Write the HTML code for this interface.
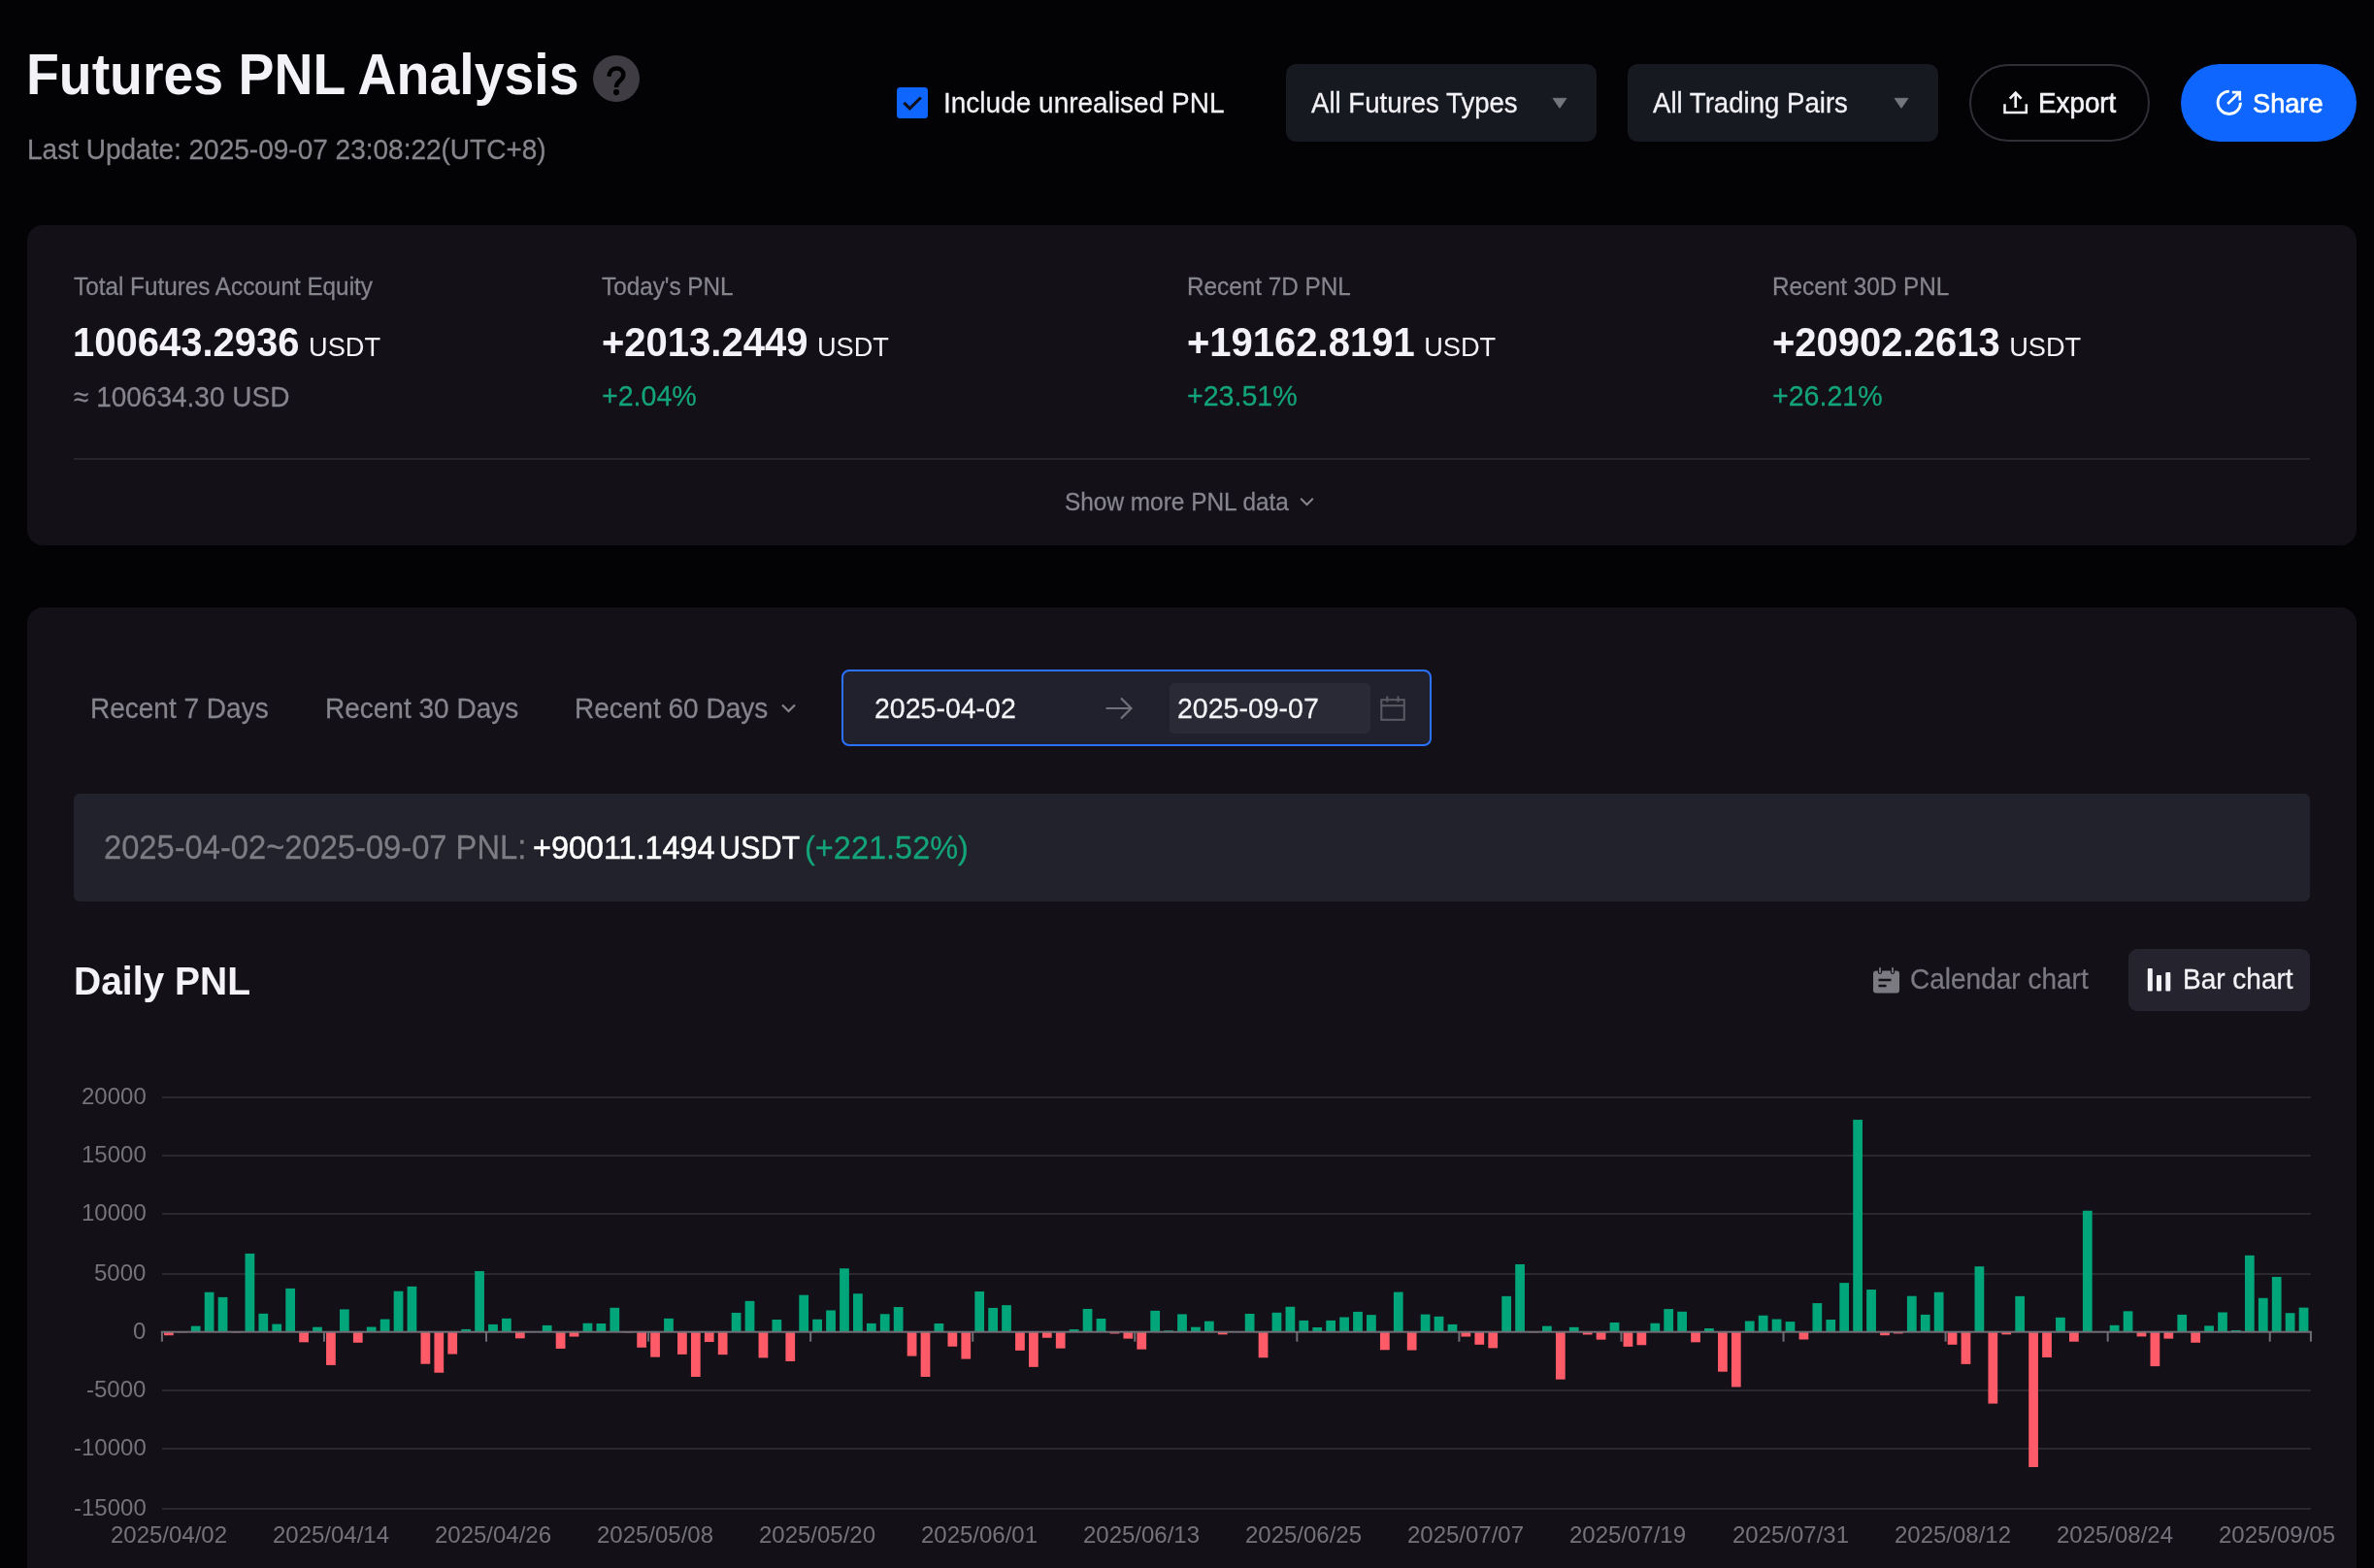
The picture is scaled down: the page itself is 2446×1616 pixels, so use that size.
<!DOCTYPE html>
<html><head><meta charset="utf-8"><title>Futures PNL Analysis</title>
<style>
html,body{margin:0;padding:0;background:#030205;width:2446px;height:1616px;overflow:hidden;position:relative;font-family:"Liberation Sans", sans-serif}
.t{position:absolute;line-height:1;white-space:nowrap;font-family:"Liberation Sans", sans-serif;will-change:transform}
.r{position:absolute}
</style></head><body>
<div class="t" style="left:27.00px;top:51.30px;font-size:55.4px;color:#f3f2f6;font-weight:700;transform:scaleY(1.065);transform-origin:0 46.90px;">Futures PNL Analysis</div>
<div class="r" style="left:611px;top:56.7px;width:48px;height:48px;border-radius:50%;background:#3f3d43"></div>
<svg class="r" style="left:611px;top:56.7px" width="48" height="48" viewBox="0 0 48 48"><path d="M16.6 21.8C16.6 16.6 19.9 13.5 24.1 13.5C28.5 13.5 31.3 16.3 31.3 19.9C31.3 23.1 29.2 24.8 27.2 26.7C25.3 28.5 24.1 29.8 24.1 33" fill="none" stroke="#000000" stroke-width="4.5"/><circle cx="24" cy="38.1" r="3.1" fill="#000000"/></svg>
<div class="t" style="left:28.00px;top:140.50px;font-size:28px;color:#86858c;font-weight:400;transform:scaleY(1.03);transform-origin:0 23.70px;-webkit-text-stroke:0.25px #86858c;">Last Update: 2025-09-07 23:08:22(UTC+8)</div>
<div class="r" style="left:924.00px;top:90.00px;width:32.00px;height:32.00px;background:#0e66ff;border-radius:3.5px;"></div>
<svg class="r" style="left:924px;top:90px" width="32" height="32" viewBox="0 0 32 32"><path d="M7.4 15.9L13.4 21.9L24.8 10.5" fill="none" stroke="#10101a" stroke-width="3.1"/></svg>
<div class="t" style="left:971.50px;top:92.60px;font-size:28px;color:#f3f2f6;font-weight:400;transform:scaleY(1.05);transform-origin:0 23.70px;-webkit-text-stroke:0.25px #f3f2f6;">Include unrealised PNL</div>
<div class="r" style="left:1325.00px;top:66.00px;width:320.00px;height:80.00px;background:#171920;border-radius:10px;"></div>
<div class="t" style="left:1350.50px;top:92.94px;font-size:27.6px;color:#f3f2f6;font-weight:400;transform:scaleY(1.06);transform-origin:0 23.36px;-webkit-text-stroke:0.25px #f3f2f6;">All Futures Types</div>
<svg class="r" style="left:1599px;top:100px" width="16" height="12" viewBox="0 0 16 12"><path d="M1 1.3h14L8 11.4z" fill="#74767e" stroke="#74767e" stroke-width="0.8" stroke-linejoin="round"/></svg>
<div class="r" style="left:1677.00px;top:66.00px;width:320.00px;height:80.00px;background:#171920;border-radius:10px;"></div>
<div class="t" style="left:1702.50px;top:92.94px;font-size:27.6px;color:#f3f2f6;font-weight:400;transform:scaleY(1.06);transform-origin:0 23.36px;-webkit-text-stroke:0.25px #f3f2f6;">All Trading Pairs</div>
<svg class="r" style="left:1951px;top:100px" width="16" height="12" viewBox="0 0 16 12"><path d="M1 1.3h14L8 11.4z" fill="#74767e" stroke="#74767e" stroke-width="0.8" stroke-linejoin="round"/></svg>
<div class="r" style="left:2029px;top:66px;width:186px;height:80px;border-radius:40px;border:2px solid #302e35;box-sizing:border-box"></div>
<svg class="r" style="left:2062px;top:92px" width="30" height="28" viewBox="0 0 30 28"><path d="M3.5 15.3V24H25.8V15.3" fill="none" stroke="#f3f2f6" stroke-width="2.5"/><path d="M14.7 19V3.8M8.8 9.7L14.7 3.6l5.9 6.1" fill="none" stroke="#f3f2f6" stroke-width="2.6"/></svg>
<div class="t" style="left:2100.00px;top:92.77px;font-size:27.8px;color:#f3f2f6;font-weight:400;transform:scaleY(1.04);transform-origin:0 23.53px;-webkit-text-stroke:0.6px #f3f2f6;">Export</div>
<div class="r" style="left:2247.00px;top:66.00px;width:181.00px;height:80.00px;background:#0e66ff;border-radius:40px;"></div>
<svg class="r" style="left:2280px;top:90px" width="34" height="34" viewBox="0 0 34 34"><path d="M16.8 4.1A11.7 11.7 0 1 0 28.5 15.8" fill="none" stroke="#ffffff" stroke-width="2.9"/><path d="M15.4 17L27 5.6M19.8 5.15H27.75V13.4" fill="none" stroke="#ffffff" stroke-width="2.7"/></svg>
<div class="t" style="left:2321.20px;top:93.28px;font-size:27.2px;color:#ffffff;font-weight:400;transform:scaleY(1.04);transform-origin:0 23.02px;-webkit-text-stroke:0.6px #fff;">Share</div>
<div class="r" style="left:28.00px;top:231.50px;width:2399.50px;height:330.50px;background:#131018;border-radius:16px;"></div>
<div class="t" style="left:76.00px;top:283.63px;font-size:24.3px;color:#86858c;font-weight:400;transform:scaleY(1.07);transform-origin:0 20.57px;-webkit-text-stroke:0.25px #86858c;">Total Futures Account Equity</div>
<div class="t" style="left:75.00px;top:333.34px;font-size:40px;color:#f3f2f6;font-weight:700;transform:scaleY(1.05);transform-origin:0 33.86px;white-space:nowrap">100643.2936<span style="font-size:27.2px;font-weight:400;margin-left:9.5px">USDT</span></div>
<div class="t" style="left:76.00px;top:395.80px;font-size:28px;color:#86858c;font-weight:400;transform:scaleY(1.03);transform-origin:0 23.70px;-webkit-text-stroke:0.25px #86858c;">≈ 100634.30 USD</div>
<div class="t" style="left:620.00px;top:283.63px;font-size:24.3px;color:#86858c;font-weight:400;transform:scaleY(1.07);transform-origin:0 20.57px;-webkit-text-stroke:0.25px #86858c;">Today's PNL</div>
<div class="t" style="left:620.00px;top:333.34px;font-size:40px;color:#f3f2f6;font-weight:700;transform:scaleY(1.05);transform-origin:0 33.86px;white-space:nowrap">+2013.2449<span style="font-size:27.2px;font-weight:400;margin-left:9.5px">USDT</span></div>
<div class="t" style="left:620.00px;top:394.09px;font-size:28.6px;color:#14a479;font-weight:400;transform:scaleY(1.02);transform-origin:0 24.21px;-webkit-text-stroke:0.25px #14a479;">+2.04%</div>
<div class="t" style="left:1222.50px;top:283.63px;font-size:24.3px;color:#86858c;font-weight:400;transform:scaleY(1.07);transform-origin:0 20.57px;-webkit-text-stroke:0.25px #86858c;">Recent 7D PNL</div>
<div class="t" style="left:1222.50px;top:333.34px;font-size:40px;color:#f3f2f6;font-weight:700;transform:scaleY(1.05);transform-origin:0 33.86px;white-space:nowrap">+19162.8191<span style="font-size:27.2px;font-weight:400;margin-left:9.5px">USDT</span></div>
<div class="t" style="left:1222.50px;top:394.09px;font-size:28.6px;color:#14a479;font-weight:400;transform:scaleY(1.02);transform-origin:0 24.21px;-webkit-text-stroke:0.25px #14a479;">+23.51%</div>
<div class="t" style="left:1825.50px;top:283.63px;font-size:24.3px;color:#86858c;font-weight:400;transform:scaleY(1.07);transform-origin:0 20.57px;-webkit-text-stroke:0.25px #86858c;">Recent 30D PNL</div>
<div class="t" style="left:1825.50px;top:333.34px;font-size:40px;color:#f3f2f6;font-weight:700;transform:scaleY(1.05);transform-origin:0 33.86px;white-space:nowrap">+20902.2613<span style="font-size:27.2px;font-weight:400;margin-left:9.5px">USDT</span></div>
<div class="t" style="left:1825.50px;top:394.09px;font-size:28.6px;color:#14a479;font-weight:400;transform:scaleY(1.02);transform-origin:0 24.21px;-webkit-text-stroke:0.25px #14a479;">+26.21%</div>
<div class="r" style="left:76.00px;top:472.00px;width:2304.00px;height:2.00px;background:#26252c;border-radius:0px;"></div>
<div class="t" style="left:1096.50px;top:506.35px;font-size:24.4px;color:#86858c;font-weight:400;transform:scaleY(1.05);transform-origin:0 20.65px;-webkit-text-stroke:0.25px #86858c;">Show more PNL data</div>
<svg class="r" style="left:1338px;top:511px" width="17" height="12" viewBox="0 0 17 12"><path d="M2.2 2.8L8.5 9l6.3-6.2" fill="none" stroke="#86858c" stroke-width="2"/></svg>
<div class="r" style="left:28.00px;top:626.00px;width:2399.50px;height:1200.00px;background:#131018;border-radius:16px;"></div>
<div class="t" style="left:93.00px;top:717.00px;font-size:28px;color:#86858c;font-weight:400;transform:scaleY(1.05);transform-origin:0 23.70px;-webkit-text-stroke:0.25px #86858c;">Recent 7 Days</div>
<div class="t" style="left:335.00px;top:717.00px;font-size:28px;color:#86858c;font-weight:400;transform:scaleY(1.05);transform-origin:0 23.70px;-webkit-text-stroke:0.25px #86858c;">Recent 30 Days</div>
<div class="t" style="left:592.00px;top:717.00px;font-size:28px;color:#86858c;font-weight:400;transform:scaleY(1.05);transform-origin:0 23.70px;-webkit-text-stroke:0.25px #86858c;">Recent 60 Days</div>
<svg class="r" style="left:803px;top:723px" width="19" height="14" viewBox="0 0 19 14"><path d="M3 3.5l6.5 6.5L16 3.5" fill="none" stroke="#86858c" stroke-width="2.2"/></svg>
<div class="r" style="left:867px;top:690.3px;width:608px;height:79px;border-radius:8px;border:2px solid #2a72ff;background:#21212d;box-sizing:border-box"></div>
<div class="r" style="left:1205.30px;top:704.30px;width:207.00px;height:51.50px;background:#2a2a37;border-radius:5px;"></div>
<div class="t" style="left:900.80px;top:716.47px;font-size:28.5px;color:#f3f2f6;font-weight:400;transform:scaleY(1.04);transform-origin:0 24.13px;-webkit-text-stroke:0.25px #f3f2f6;">2025-04-02</div>
<div class="t" style="left:1212.90px;top:716.47px;font-size:28.5px;color:#f3f2f6;font-weight:400;transform:scaleY(1.04);transform-origin:0 24.13px;-webkit-text-stroke:0.25px #f3f2f6;">2025-09-07</div>
<svg class="r" style="left:1137px;top:716px" width="32" height="28" viewBox="0 0 32 28"><path d="M2.5 14h26M18 3.5L28.5 14 18 24.5" fill="none" stroke="#70707b" stroke-width="2.2"/></svg>
<svg class="r" style="left:1420px;top:716px" width="30" height="29" viewBox="0 0 30 29"><rect x="3.3" y="5.2" width="23.5" height="20.6" fill="none" stroke="#5b5a64" stroke-width="2"/><path d="M3.3 11.3h23.5M9.3 1.5v6M20.5 1.5v6" fill="none" stroke="#5b5a64" stroke-width="2"/></svg>
<div class="r" style="left:76.30px;top:818.00px;width:2304.00px;height:111.00px;background:#22222d;border-radius:6px;"></div>
<div class="t" style="left:107.00px;top:857.52px;font-size:32.7px;color:#7d7c84;font-weight:400;transform:scaleY(1.05);transform-origin:0 27.68px;-webkit-text-stroke:0.25px #7d7c84;">2025-04-02~2025-09-07 PNL:</div>
<div class="t" style="left:549.00px;top:857.77px;font-size:32.4px;color:#ffffff;font-weight:400;transform:scaleY(1.05);transform-origin:0 27.43px;-webkit-text-stroke:0.5px #fff;">+90011.1494</div>
<div class="t" style="left:741.00px;top:859.30px;font-size:30.6px;color:#ffffff;font-weight:400;transform:scaleY(1.08);transform-origin:0 25.90px;-webkit-text-stroke:0.4px #fff;">USDT</div>
<div class="t" style="left:828.50px;top:857.69px;font-size:32.5px;color:#14a479;font-weight:400;transform:scaleY(1.05);transform-origin:0 27.51px;-webkit-text-stroke:0.25px #14a479;">(+221.52%)</div>
<div class="t" style="left:76.00px;top:992.49px;font-size:39px;color:#f3f2f6;font-weight:700;transform:scaleY(1.06);transform-origin:0 33.01px;">Daily PNL</div>
<svg class="r" style="left:1928px;top:994px" width="32" height="32" viewBox="0 0 32 32"><rect x="2" y="6.5" width="27" height="23" rx="3" fill="#7b7a81"/><rect x="7.5" y="2.5" width="3" height="7" rx="1.5" fill="#7b7a81" stroke="#121118" stroke-width="1.2"/><rect x="20.5" y="2.5" width="3" height="7" rx="1.5" fill="#7b7a81" stroke="#121118" stroke-width="1.2"/><path d="M7.5 16h13M7.5 22h8" stroke="#121118" stroke-width="2.4"/></svg>
<div class="t" style="left:1967.50px;top:995.90px;font-size:28px;color:#7b7a81;font-weight:400;transform:scaleY(1.05);transform-origin:0 23.70px;-webkit-text-stroke:0.25px #7b7a81;">Calendar chart</div>
<div class="r" style="left:2193.00px;top:978.00px;width:187.00px;height:63.50px;background:#24232e;border-radius:9px;"></div>
<svg class="r" style="left:2210px;top:996px" width="30" height="28" viewBox="0 0 30 28"><rect x="2.8" y="2" width="5" height="23.5" rx="1" fill="#f3f2f6"/><rect x="12" y="9" width="5" height="16.5" rx="1" fill="#f3f2f6"/><rect x="21.3" y="6" width="5" height="19.5" rx="1" fill="#f3f2f6"/></svg>
<div class="t" style="left:2249.00px;top:995.90px;font-size:28px;color:#f3f2f6;font-weight:400;transform:scaleY(1.05);transform-origin:0 23.70px;-webkit-text-stroke:0.3px #f3f2f6;">Bar chart</div>
<svg class="r" style="left:0;top:0" width="2446" height="1616" viewBox="0 0 2446 1616">
<rect x="166.9" y="1130.00" width="2214.00" height="2" fill="#2a2930"/>
<rect x="166.9" y="1190.00" width="2214.00" height="2" fill="#2a2930"/>
<rect x="166.9" y="1250.00" width="2214.00" height="2" fill="#2a2930"/>
<rect x="166.9" y="1312.00" width="2214.00" height="2" fill="#2a2930"/>
<rect x="166.9" y="1432.00" width="2214.00" height="2" fill="#2a2930"/>
<rect x="166.9" y="1492.00" width="2214.00" height="2" fill="#2a2930"/>
<rect x="166.9" y="1554.00" width="2214.00" height="2" fill="#2a2930"/>
<rect x="168.99" y="1372.70" width="9.75" height="3.54" fill="#fe5a67"/>
<rect x="182.91" y="1372.70" width="9.75" height="0.60" fill="#fe5a67"/>
<rect x="196.83" y="1366.65" width="9.75" height="6.05" fill="#00a67a"/>
<rect x="210.75" y="1331.72" width="9.75" height="40.98" fill="#00a67a"/>
<rect x="224.67" y="1336.88" width="9.75" height="35.82" fill="#00a67a"/>
<rect x="238.60" y="1372.70" width="9.75" height="0.72" fill="#fe5a67"/>
<rect x="252.52" y="1291.92" width="9.75" height="80.78" fill="#00a67a"/>
<rect x="266.44" y="1353.84" width="9.75" height="18.86" fill="#00a67a"/>
<rect x="280.36" y="1364.59" width="9.75" height="8.11" fill="#00a67a"/>
<rect x="294.28" y="1327.88" width="9.75" height="44.82" fill="#00a67a"/>
<rect x="308.21" y="1372.70" width="9.75" height="10.62" fill="#fe5a67"/>
<rect x="322.13" y="1367.68" width="9.75" height="5.02" fill="#00a67a"/>
<rect x="336.05" y="1372.70" width="9.75" height="34.20" fill="#fe5a67"/>
<rect x="349.97" y="1349.41" width="9.75" height="23.29" fill="#00a67a"/>
<rect x="363.89" y="1372.70" width="9.75" height="11.05" fill="#fe5a67"/>
<rect x="377.82" y="1367.54" width="9.75" height="5.16" fill="#00a67a"/>
<rect x="391.74" y="1359.58" width="9.75" height="13.12" fill="#00a67a"/>
<rect x="405.66" y="1330.69" width="9.75" height="42.01" fill="#00a67a"/>
<rect x="419.58" y="1325.83" width="9.75" height="46.87" fill="#00a67a"/>
<rect x="433.50" y="1372.70" width="9.75" height="33.02" fill="#fe5a67"/>
<rect x="447.43" y="1372.70" width="9.75" height="42.01" fill="#fe5a67"/>
<rect x="461.35" y="1372.70" width="9.75" height="22.85" fill="#fe5a67"/>
<rect x="475.27" y="1369.90" width="9.75" height="2.80" fill="#00a67a"/>
<rect x="489.19" y="1310.05" width="9.75" height="62.65" fill="#00a67a"/>
<rect x="503.11" y="1364.89" width="9.75" height="7.81" fill="#00a67a"/>
<rect x="517.04" y="1358.84" width="9.75" height="13.86" fill="#00a67a"/>
<rect x="530.96" y="1372.70" width="9.75" height="6.64" fill="#fe5a67"/>
<rect x="558.80" y="1365.92" width="9.75" height="6.78" fill="#00a67a"/>
<rect x="572.72" y="1372.70" width="9.75" height="17.24" fill="#fe5a67"/>
<rect x="586.65" y="1372.70" width="9.75" height="4.86" fill="#fe5a67"/>
<rect x="600.57" y="1363.71" width="9.75" height="8.99" fill="#00a67a"/>
<rect x="614.49" y="1364.00" width="9.75" height="8.70" fill="#00a67a"/>
<rect x="628.41" y="1347.79" width="9.75" height="24.91" fill="#00a67a"/>
<rect x="642.33" y="1372.70" width="9.75" height="0.72" fill="#fe5a67"/>
<rect x="656.26" y="1372.70" width="9.75" height="16.07" fill="#fe5a67"/>
<rect x="670.18" y="1372.70" width="9.75" height="25.94" fill="#fe5a67"/>
<rect x="684.10" y="1358.84" width="9.75" height="13.86" fill="#00a67a"/>
<rect x="698.02" y="1372.70" width="9.75" height="23.15" fill="#fe5a67"/>
<rect x="711.94" y="1372.70" width="9.75" height="46.28" fill="#fe5a67"/>
<rect x="725.87" y="1372.70" width="9.75" height="10.32" fill="#fe5a67"/>
<rect x="739.79" y="1372.70" width="9.75" height="23.44" fill="#fe5a67"/>
<rect x="753.71" y="1352.95" width="9.75" height="19.75" fill="#00a67a"/>
<rect x="767.63" y="1340.85" width="9.75" height="31.85" fill="#00a67a"/>
<rect x="781.55" y="1372.70" width="9.75" height="26.69" fill="#fe5a67"/>
<rect x="795.48" y="1360.03" width="9.75" height="12.67" fill="#00a67a"/>
<rect x="809.40" y="1372.70" width="9.75" height="30.22" fill="#fe5a67"/>
<rect x="823.32" y="1334.66" width="9.75" height="38.04" fill="#00a67a"/>
<rect x="837.24" y="1359.73" width="9.75" height="12.97" fill="#00a67a"/>
<rect x="851.16" y="1350.44" width="9.75" height="22.26" fill="#00a67a"/>
<rect x="865.09" y="1307.24" width="9.75" height="65.46" fill="#00a67a"/>
<rect x="879.01" y="1333.20" width="9.75" height="39.50" fill="#00a67a"/>
<rect x="892.93" y="1363.86" width="9.75" height="8.84" fill="#00a67a"/>
<rect x="906.85" y="1354.27" width="9.75" height="18.43" fill="#00a67a"/>
<rect x="920.77" y="1347.04" width="9.75" height="25.66" fill="#00a67a"/>
<rect x="934.70" y="1372.70" width="9.75" height="24.91" fill="#fe5a67"/>
<rect x="948.62" y="1372.70" width="9.75" height="46.28" fill="#fe5a67"/>
<rect x="962.54" y="1364.00" width="9.75" height="8.70" fill="#00a67a"/>
<rect x="976.46" y="1372.70" width="9.75" height="15.04" fill="#fe5a67"/>
<rect x="990.38" y="1372.70" width="9.75" height="27.86" fill="#fe5a67"/>
<rect x="1004.31" y="1330.98" width="9.75" height="41.72" fill="#00a67a"/>
<rect x="1018.23" y="1347.93" width="9.75" height="24.77" fill="#00a67a"/>
<rect x="1032.15" y="1345.14" width="9.75" height="27.56" fill="#00a67a"/>
<rect x="1046.07" y="1372.70" width="9.75" height="19.16" fill="#fe5a67"/>
<rect x="1059.99" y="1372.70" width="9.75" height="36.12" fill="#fe5a67"/>
<rect x="1073.92" y="1372.70" width="9.75" height="6.05" fill="#fe5a67"/>
<rect x="1087.84" y="1372.70" width="9.75" height="16.96" fill="#fe5a67"/>
<rect x="1101.76" y="1370.05" width="9.75" height="2.65" fill="#00a67a"/>
<rect x="1115.68" y="1348.96" width="9.75" height="23.74" fill="#00a67a"/>
<rect x="1129.60" y="1358.98" width="9.75" height="13.72" fill="#00a67a"/>
<rect x="1143.53" y="1372.70" width="9.75" height="1.80" fill="#fe5a67"/>
<rect x="1157.45" y="1372.70" width="9.75" height="6.92" fill="#fe5a67"/>
<rect x="1171.37" y="1372.70" width="9.75" height="17.99" fill="#fe5a67"/>
<rect x="1185.29" y="1350.88" width="9.75" height="21.82" fill="#00a67a"/>
<rect x="1199.21" y="1371.26" width="9.75" height="1.44" fill="#00a67a"/>
<rect x="1213.14" y="1354.42" width="9.75" height="18.28" fill="#00a67a"/>
<rect x="1227.06" y="1367.68" width="9.75" height="5.02" fill="#00a67a"/>
<rect x="1240.98" y="1361.65" width="9.75" height="11.05" fill="#00a67a"/>
<rect x="1254.90" y="1372.70" width="9.75" height="2.65" fill="#fe5a67"/>
<rect x="1282.75" y="1353.98" width="9.75" height="18.72" fill="#00a67a"/>
<rect x="1296.67" y="1372.70" width="9.75" height="26.53" fill="#fe5a67"/>
<rect x="1310.59" y="1352.80" width="9.75" height="19.90" fill="#00a67a"/>
<rect x="1324.51" y="1346.76" width="9.75" height="25.94" fill="#00a67a"/>
<rect x="1338.43" y="1360.90" width="9.75" height="11.80" fill="#00a67a"/>
<rect x="1352.36" y="1367.98" width="9.75" height="4.72" fill="#00a67a"/>
<rect x="1366.28" y="1360.90" width="9.75" height="11.80" fill="#00a67a"/>
<rect x="1380.20" y="1357.52" width="9.75" height="15.18" fill="#00a67a"/>
<rect x="1394.12" y="1351.92" width="9.75" height="20.78" fill="#00a67a"/>
<rect x="1408.04" y="1355.16" width="9.75" height="17.54" fill="#00a67a"/>
<rect x="1421.97" y="1372.70" width="9.75" height="18.58" fill="#fe5a67"/>
<rect x="1435.89" y="1331.58" width="9.75" height="41.12" fill="#00a67a"/>
<rect x="1449.81" y="1372.70" width="9.75" height="18.86" fill="#fe5a67"/>
<rect x="1463.73" y="1354.57" width="9.75" height="18.13" fill="#00a67a"/>
<rect x="1477.65" y="1356.78" width="9.75" height="15.92" fill="#00a67a"/>
<rect x="1491.58" y="1364.89" width="9.75" height="7.81" fill="#00a67a"/>
<rect x="1505.50" y="1372.70" width="9.75" height="4.86" fill="#fe5a67"/>
<rect x="1519.42" y="1372.70" width="9.75" height="13.12" fill="#fe5a67"/>
<rect x="1533.34" y="1372.70" width="9.75" height="16.66" fill="#fe5a67"/>
<rect x="1547.26" y="1335.85" width="9.75" height="36.85" fill="#00a67a"/>
<rect x="1561.19" y="1302.97" width="9.75" height="69.73" fill="#00a67a"/>
<rect x="1575.11" y="1372.70" width="9.75" height="0.60" fill="#fe5a67"/>
<rect x="1589.03" y="1366.65" width="9.75" height="6.05" fill="#00a67a"/>
<rect x="1602.95" y="1372.70" width="9.75" height="48.95" fill="#fe5a67"/>
<rect x="1616.87" y="1367.84" width="9.75" height="4.86" fill="#00a67a"/>
<rect x="1630.80" y="1372.70" width="9.75" height="2.80" fill="#fe5a67"/>
<rect x="1644.72" y="1372.70" width="9.75" height="7.96" fill="#fe5a67"/>
<rect x="1658.64" y="1362.97" width="9.75" height="9.73" fill="#00a67a"/>
<rect x="1672.56" y="1372.70" width="9.75" height="15.18" fill="#fe5a67"/>
<rect x="1686.48" y="1372.70" width="9.75" height="13.56" fill="#fe5a67"/>
<rect x="1700.41" y="1363.71" width="9.75" height="8.99" fill="#00a67a"/>
<rect x="1714.33" y="1349.11" width="9.75" height="23.59" fill="#00a67a"/>
<rect x="1728.25" y="1351.77" width="9.75" height="20.93" fill="#00a67a"/>
<rect x="1742.17" y="1372.70" width="9.75" height="10.62" fill="#fe5a67"/>
<rect x="1756.09" y="1369.02" width="9.75" height="3.68" fill="#00a67a"/>
<rect x="1770.02" y="1372.70" width="9.75" height="40.98" fill="#fe5a67"/>
<rect x="1783.94" y="1372.70" width="9.75" height="56.76" fill="#fe5a67"/>
<rect x="1797.86" y="1361.49" width="9.75" height="11.21" fill="#00a67a"/>
<rect x="1811.78" y="1355.74" width="9.75" height="16.96" fill="#00a67a"/>
<rect x="1825.70" y="1359.58" width="9.75" height="13.12" fill="#00a67a"/>
<rect x="1839.63" y="1362.08" width="9.75" height="10.62" fill="#00a67a"/>
<rect x="1853.55" y="1372.70" width="9.75" height="7.81" fill="#fe5a67"/>
<rect x="1867.47" y="1343.07" width="9.75" height="29.63" fill="#00a67a"/>
<rect x="1881.39" y="1360.03" width="9.75" height="12.67" fill="#00a67a"/>
<rect x="1895.31" y="1322.13" width="9.75" height="50.57" fill="#00a67a"/>
<rect x="1909.24" y="1154.04" width="9.75" height="218.66" fill="#00a67a"/>
<rect x="1923.16" y="1329.07" width="9.75" height="43.63" fill="#00a67a"/>
<rect x="1937.08" y="1372.70" width="9.75" height="3.54" fill="#fe5a67"/>
<rect x="1951.00" y="1372.70" width="9.75" height="1.76" fill="#fe5a67"/>
<rect x="1964.92" y="1335.69" width="9.75" height="37.01" fill="#00a67a"/>
<rect x="1978.85" y="1354.87" width="9.75" height="17.83" fill="#00a67a"/>
<rect x="1992.77" y="1331.72" width="9.75" height="40.98" fill="#00a67a"/>
<rect x="2006.69" y="1372.70" width="9.75" height="13.12" fill="#fe5a67"/>
<rect x="2020.61" y="1372.70" width="9.75" height="33.17" fill="#fe5a67"/>
<rect x="2034.53" y="1305.19" width="9.75" height="67.51" fill="#00a67a"/>
<rect x="2048.46" y="1372.70" width="9.75" height="73.88" fill="#fe5a67"/>
<rect x="2062.38" y="1372.70" width="9.75" height="2.65" fill="#fe5a67"/>
<rect x="2076.30" y="1335.85" width="9.75" height="36.85" fill="#00a67a"/>
<rect x="2090.22" y="1372.70" width="9.75" height="139.33" fill="#fe5a67"/>
<rect x="2104.14" y="1372.70" width="9.75" height="26.24" fill="#fe5a67"/>
<rect x="2118.07" y="1357.81" width="9.75" height="14.89" fill="#00a67a"/>
<rect x="2131.99" y="1372.70" width="9.75" height="10.02" fill="#fe5a67"/>
<rect x="2145.91" y="1247.74" width="9.75" height="124.96" fill="#00a67a"/>
<rect x="2173.75" y="1365.78" width="9.75" height="6.92" fill="#00a67a"/>
<rect x="2187.68" y="1351.33" width="9.75" height="21.37" fill="#00a67a"/>
<rect x="2201.60" y="1372.70" width="9.75" height="4.72" fill="#fe5a67"/>
<rect x="2215.52" y="1372.70" width="9.75" height="35.38" fill="#fe5a67"/>
<rect x="2229.44" y="1372.70" width="9.75" height="6.92" fill="#fe5a67"/>
<rect x="2243.36" y="1354.87" width="9.75" height="17.83" fill="#00a67a"/>
<rect x="2257.29" y="1372.70" width="9.75" height="11.05" fill="#fe5a67"/>
<rect x="2271.21" y="1366.36" width="9.75" height="6.34" fill="#00a67a"/>
<rect x="2285.13" y="1352.50" width="9.75" height="20.20" fill="#00a67a"/>
<rect x="2299.05" y="1370.94" width="9.75" height="1.76" fill="#00a67a"/>
<rect x="2312.97" y="1293.84" width="9.75" height="78.86" fill="#00a67a"/>
<rect x="2326.90" y="1337.77" width="9.75" height="34.93" fill="#00a67a"/>
<rect x="2340.82" y="1315.94" width="9.75" height="56.76" fill="#00a67a"/>
<rect x="2354.74" y="1353.24" width="9.75" height="19.46" fill="#00a67a"/>
<rect x="2368.66" y="1347.64" width="9.75" height="25.06" fill="#00a67a"/>
<rect x="165.9" y="1371.70" width="2216.00" height="2" fill="#6f6e75"/>
<rect x="165.90" y="1372.70" width="2" height="10" fill="#6f6e75"/>
<rect x="332.96" y="1372.70" width="2" height="10" fill="#6f6e75"/>
<rect x="500.03" y="1372.70" width="2" height="10" fill="#6f6e75"/>
<rect x="667.09" y="1372.70" width="2" height="10" fill="#6f6e75"/>
<rect x="834.16" y="1372.70" width="2" height="10" fill="#6f6e75"/>
<rect x="1001.22" y="1372.70" width="2" height="10" fill="#6f6e75"/>
<rect x="1168.28" y="1372.70" width="2" height="10" fill="#6f6e75"/>
<rect x="1335.35" y="1372.70" width="2" height="10" fill="#6f6e75"/>
<rect x="1502.41" y="1372.70" width="2" height="10" fill="#6f6e75"/>
<rect x="1669.48" y="1372.70" width="2" height="10" fill="#6f6e75"/>
<rect x="1836.54" y="1372.70" width="2" height="10" fill="#6f6e75"/>
<rect x="2003.60" y="1372.70" width="2" height="10" fill="#6f6e75"/>
<rect x="2170.67" y="1372.70" width="2" height="10" fill="#6f6e75"/>
<rect x="2337.73" y="1372.70" width="2" height="10" fill="#6f6e75"/>
<rect x="2379.90" y="1372.70" width="2" height="10" fill="#6f6e75"/>
</svg>
<div class="t" style="right:2295.50px;top:1118.28px;font-size:24px;color:#747379;text-align:right">20000</div>
<div class="t" style="right:2295.50px;top:1178.28px;font-size:24px;color:#747379;text-align:right">15000</div>
<div class="t" style="right:2295.50px;top:1238.28px;font-size:24px;color:#747379;text-align:right">10000</div>
<div class="t" style="right:2295.50px;top:1300.28px;font-size:24px;color:#747379;text-align:right">5000</div>
<div class="t" style="right:2295.50px;top:1359.98px;font-size:24px;color:#747379;text-align:right">0</div>
<div class="t" style="right:2295.50px;top:1420.28px;font-size:24px;color:#747379;text-align:right">-5000</div>
<div class="t" style="right:2295.50px;top:1480.28px;font-size:24px;color:#747379;text-align:right">-10000</div>
<div class="t" style="right:2295.50px;top:1542.28px;font-size:24px;color:#747379;text-align:right">-15000</div>
<div class="t" style="left:93.86px;width:160px;text-align:center;top:1570.18px;font-size:24px;color:#747379">2025/04/02</div>
<div class="t" style="left:260.93px;width:160px;text-align:center;top:1570.18px;font-size:24px;color:#747379">2025/04/14</div>
<div class="t" style="left:427.99px;width:160px;text-align:center;top:1570.18px;font-size:24px;color:#747379">2025/04/26</div>
<div class="t" style="left:595.05px;width:160px;text-align:center;top:1570.18px;font-size:24px;color:#747379">2025/05/08</div>
<div class="t" style="left:762.12px;width:160px;text-align:center;top:1570.18px;font-size:24px;color:#747379">2025/05/20</div>
<div class="t" style="left:929.18px;width:160px;text-align:center;top:1570.18px;font-size:24px;color:#747379">2025/06/01</div>
<div class="t" style="left:1096.25px;width:160px;text-align:center;top:1570.18px;font-size:24px;color:#747379">2025/06/13</div>
<div class="t" style="left:1263.31px;width:160px;text-align:center;top:1570.18px;font-size:24px;color:#747379">2025/06/25</div>
<div class="t" style="left:1430.37px;width:160px;text-align:center;top:1570.18px;font-size:24px;color:#747379">2025/07/07</div>
<div class="t" style="left:1597.44px;width:160px;text-align:center;top:1570.18px;font-size:24px;color:#747379">2025/07/19</div>
<div class="t" style="left:1764.50px;width:160px;text-align:center;top:1570.18px;font-size:24px;color:#747379">2025/07/31</div>
<div class="t" style="left:1931.57px;width:160px;text-align:center;top:1570.18px;font-size:24px;color:#747379">2025/08/12</div>
<div class="t" style="left:2098.63px;width:160px;text-align:center;top:1570.18px;font-size:24px;color:#747379">2025/08/24</div>
<div class="t" style="left:2265.69px;width:160px;text-align:center;top:1570.18px;font-size:24px;color:#747379">2025/09/05</div>
</body></html>
